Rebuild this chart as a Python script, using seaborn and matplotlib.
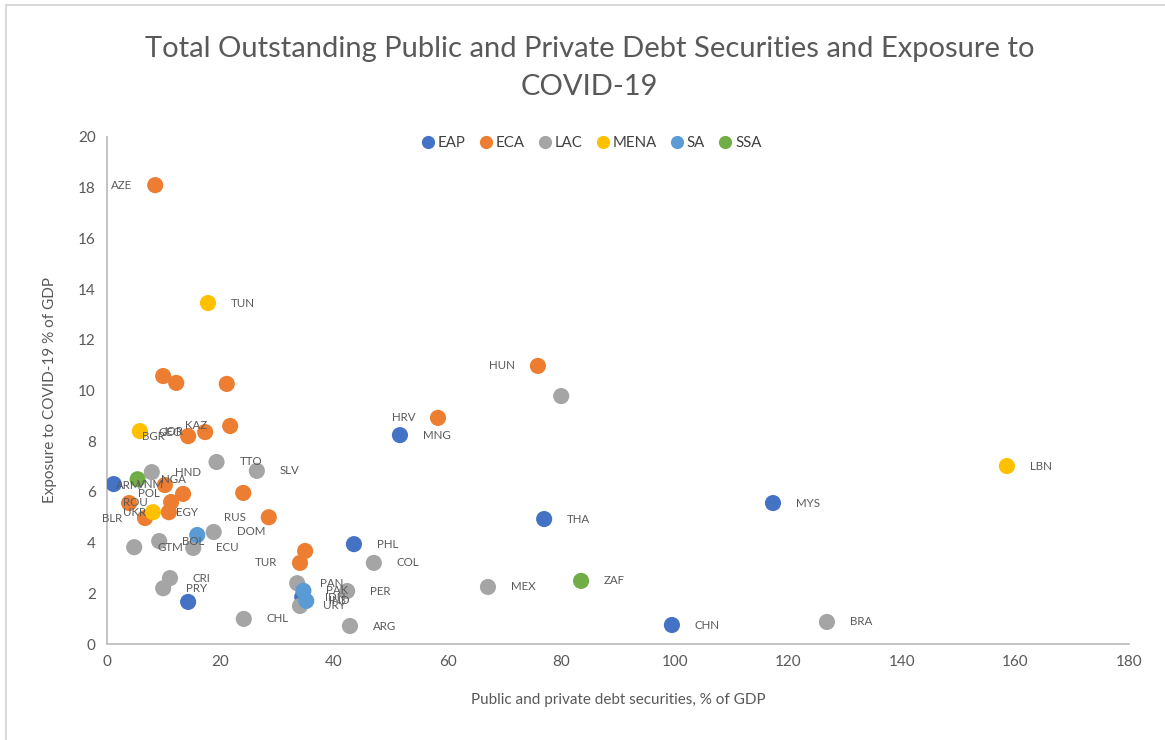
import matplotlib
matplotlib.use("Agg")
import matplotlib.pyplot as plt
from matplotlib.lines import Line2D
import pandas as pd
import seaborn as sns

# Country codes, regions and the two measures (% of GDP)
countries = [
    "VNM", "MNG", "MYS", "THA", "CHN", "PHL", "IDN", "",
    "AZE", "", "", "", "HUN", "HRV", "BGR", "GEO", "KAZ", "ARM", "POL", "ROU",
    "UKR", "BLR", "", "RUS", "", "TUR", "",
    "", "TTO", "SLV", "HND", "DOM", "BOL", "GTM", "ECU", "CRI", "PRY", "CHL",
    "PAN", "URY", "PER", "ARG", "COL", "MEX", "BRA",
    "TUN", "JOR", "EGY", "LBN",
    "PAK", "IND", "",
    "NGA", "ZAF",
]
regions = (
    ["EAP"] * 8
    + ["ECA"] * 19
    + ["LAC"] * 18
    + ["MENA"] * 4
    + ["SA"] * 3
    + ["SSA"] * 2
)
debt_securities = [
    1.2, 51.6, 117.3, 77.0, 99.5, 43.5, 34.4, 14.3,
    8.5, 9.9, 12.2, 21.1, 75.9, 58.3, 14.3, 17.3, 21.7, 10.2, 13.4, 11.3,
    10.9, 6.7, 3.9, 28.5, 24.0, 34.0, 34.9,
    80.0, 19.3, 26.4, 7.9, 18.8, 9.2, 4.8, 15.2, 11.1, 9.9, 24.1,
    33.5, 34.0, 42.3, 42.8, 47.0, 67.1, 126.8,
    17.8, 5.8, 8.1, 158.5,
    34.6, 35.1, 15.9,
    5.4, 83.5,
]
covid_exposure = [
    6.31, 8.24, 5.56, 4.93, 0.75, 3.94, 1.85, 1.66,
    18.1, 10.57, 10.3, 10.26, 10.97, 8.92, 8.2, 8.36, 8.6, 6.27, 5.92, 5.6,
    5.2, 4.97, 5.56, 5.0, 5.96, 3.2, 3.67,
    9.78, 7.18, 6.83, 6.78, 4.42, 4.06, 3.82, 3.79, 2.6, 2.2, 0.99,
    2.4, 1.5, 2.09, 0.71, 3.2, 2.25, 0.87,
    13.45, 8.4, 5.2, 7.02,
    2.1, 1.7, 4.3,
    6.5, 2.49,
]

# Labels placed to the left of their marker; every other label sits to the right
left_labels = {"AZE", "HUN", "HRV", "BGR", "GEO", "KAZ", "ARM", "POL", "ROU",
               "UKR", "BLR", "RUS", "TUR"}

region_order = ["EAP", "ECA", "LAC", "MENA", "SA", "SSA"]
palette = {
    "EAP": "#4472C4",
    "ECA": "#ED7D31",
    "LAC": "#A5A5A5",
    "MENA": "#FFC000",
    "SA": "#5B9BD5",
    "SSA": "#70AD47",
}

df = pd.DataFrame({
    "country": countries,
    "region": regions,
    "debt": debt_securities,
    "exposure": covid_exposure,
})

sns.set_theme(style="white")
plt.rcParams["font.family"] = ["Lato", "DejaVu Sans"]

text_grey = "#595959"
axis_grey = "#BFBFBF"

fig = plt.figure(figsize=(11.65, 7.40), dpi=100)
ax = fig.add_axes([0.0918, 0.1297, 0.8773, 0.6852])

sns.scatterplot(
    data=df, x="debt", y="exposure", hue="region", hue_order=region_order,
    palette=palette, s=135, edgecolor="none", linewidth=0, alpha=1,
    legend=False, ax=ax, zorder=3,
)

for _, row in df.iterrows():
    if not row["country"]:
        continue
    on_left = row["country"] in left_labels
    ax.annotate(
        row["country"], (row["debt"], row["exposure"]),
        xytext=(-16.5 if on_left else 16.5, 0), textcoords="offset points",
        ha="right" if on_left else "left", va="center",
        fontsize=8.3, color=text_grey, zorder=4,
    )

ax.set_xlim(0, 180)
ax.set_ylim(0, 20)
ax.set_xticks(range(0, 181, 20))
ax.set_yticks(range(0, 21, 2))
ax.tick_params(axis="both", length=0, labelsize=11, colors=text_grey, pad=8)

for side in ("top", "right"):
    ax.spines[side].set_visible(False)
for side in ("left", "bottom"):
    ax.spines[side].set_color(axis_grey)
    ax.spines[side].set_linewidth(1.3)

ax.set_xlabel("Public and private debt securities, % of GDP",
              fontsize=11, color=text_grey, labelpad=17)
ax.set_ylabel("Exposure to COVID-19 % of GDP",
              fontsize=11, color=text_grey, labelpad=15)

fig.text(0.506, 0.908,
         "Total Outstanding Public and Private Debt Securities and Exposure to\nCOVID-19",
         ha="center", va="center", fontsize=21, color=text_grey,
         fontweight="normal", linespacing=1.6)

handles = [
    Line2D([0], [0], marker="o", linestyle="none", markersize=9.5,
           markerfacecolor=palette[r], markeredgecolor="none", label=r)
    for r in region_order
]
fig.legend(handles=handles, loc="center", bbox_to_anchor=(0.508, 0.807),
           ncol=6, frameon=False, fontsize=10.8, handlelength=0.8,
           handletextpad=0.25, columnspacing=0.95, labelcolor="#404040")

# Thin frame around the chart area
fig.add_artist(Line2D([6 / 1165, 6 / 1165], [0, 1 - 5 / 740],
                      transform=fig.transFigure, color="#D9D9D9", lw=1.5))
fig.add_artist(Line2D([6 / 1165, 1], [1 - 5 / 740, 1 - 5 / 740],
                      transform=fig.transFigure, color="#D9D9D9", lw=1.5))

fig.savefig("out.png", dpi=100, facecolor="white")
